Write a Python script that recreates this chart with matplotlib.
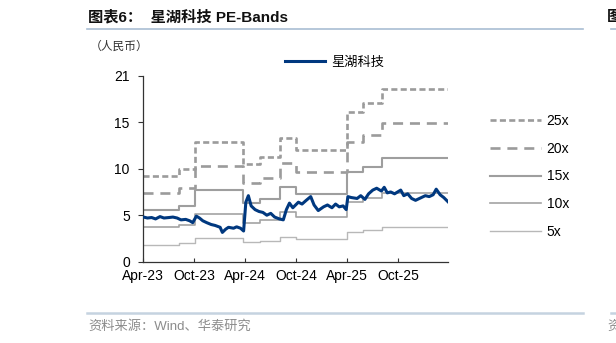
import matplotlib
matplotlib.use("Agg")
import matplotlib.pyplot as plt
import matplotlib.dates as mdates
from matplotlib.lines import Line2D
import numpy as np
import pandas as pd

plt.rcParams["font.family"] = ["Liberation Sans", "Noto Sans CJK SC"]

# 星湖科技 股价（人民币）
price_dates = [
    "2023-04-03", "2023-04-17", "2023-05-02", "2023-05-16", "2023-06-01", "2023-06-15",
    "2023-07-03", "2023-07-17", "2023-08-01", "2023-08-15", "2023-09-01", "2023-09-15",
    "2023-09-26", "2023-10-09", "2023-10-20", "2023-11-01", "2023-11-15", "2023-12-01",
    "2023-12-15", "2024-01-02", "2024-01-10", "2024-01-22", "2024-02-01", "2024-02-19",
    "2024-03-01", "2024-03-15", "2024-03-26", "2024-04-03", "2024-04-12", "2024-04-22",
    "2024-05-06", "2024-05-20", "2024-06-03", "2024-06-17", "2024-07-01", "2024-07-15",
    "2024-08-01", "2024-08-15", "2024-08-26", "2024-09-06", "2024-09-18", "2024-10-08",
    "2024-10-21", "2024-11-05", "2024-11-21", "2024-12-03", "2024-12-18", "2025-01-06",
    "2025-01-20", "2025-02-05", "2025-02-18", "2025-03-03", "2025-03-17", "2025-03-28",
    "2025-04-03", "2025-04-15", "2025-05-06", "2025-05-19", "2025-06-03", "2025-06-16",
    "2025-07-01", "2025-07-15", "2025-08-01", "2025-08-11", "2025-08-22", "2025-09-03",
    "2025-09-17", "2025-10-09", "2025-10-20", "2025-11-03", "2025-11-17", "2025-12-01",
    "2025-12-15", "2026-01-05", "2026-01-19", "2026-02-02", "2026-02-13", "2026-02-27",
    "2026-03-12", "2026-03-27",
]
price_values = [
    4.80, 4.70, 4.75, 4.60, 4.85, 4.70,
    4.75, 4.80, 4.70, 4.50, 4.55, 4.40,
    4.20, 4.90, 4.70, 4.40, 4.20, 4.00,
    3.90, 3.70, 3.15, 3.50, 3.70, 3.60,
    3.75, 3.60, 3.30, 6.40, 7.10, 6.00,
    5.60, 5.40, 5.30, 5.00, 5.20, 4.80,
    4.60, 4.50, 5.60, 6.30, 5.80, 6.40,
    6.20, 6.60, 7.00, 6.10, 5.50, 5.90,
    6.10, 5.80, 6.20, 5.90, 6.00, 5.60,
    7.00, 6.90, 6.80, 7.10, 6.70, 7.30,
    7.70, 7.90, 7.60, 8.00, 7.40, 7.50,
    7.30, 7.70, 7.10, 7.30, 6.80, 6.60,
    6.80, 7.10, 7.00, 7.20, 7.80, 7.20,
    6.90, 6.45,
]

# 每股收益阶梯（PE 带 = 倍数 × EPS）
eps_dates = [
    "2023-04-01", "2023-08-07", "2023-10-05", "2024-03-25", "2024-05-25",
    "2024-08-04", "2024-10-01", "2025-04-01", "2025-05-28", "2025-08-04",
]
eps_values = [0.368, 0.398, 0.514, 0.421, 0.450, 0.532, 0.482, 0.646, 0.682, 0.744]
end_date = "2026-03-27"
multiples = [25, 20, 15, 10, 5]
band_labels = ["25x", "20x", "15x", "10x", "5x"]

x_ticks = ["2023-04-01", "2023-10-01", "2024-04-01", "2024-10-01", "2025-04-01", "2025-10-01"]
x_tick_labels = ["Apr-23", "Oct-23", "Apr-24", "Oct-24", "Apr-25", "Oct-25"]
y_ticks = [0, 5, 10, 15, 20]
y_tick_labels = ["0", "5", "10", "15", "21"]

band_styles = {
    25: dict(color="#9B9B9B", lw=1.9, ls=(0, (2.3, 1.25))),
    20: dict(color="#9B9B9B", lw=1.9, ls=(0, (3.8, 2.6))),
    15: dict(color="#9E9E9E", lw=1.5, ls="-"),
    10: dict(color="#A3A3A3", lw=1.2, ls="-"),
    5: dict(color="#B8B8B8", lw=1.0, ls="-"),
}
navy = "#00387F"

fig = plt.figure(figsize=(6.16, 3.43), dpi=100)
ax = fig.add_axes([0.2321, 0.2370, 0.4951, 0.5423])

step_x = pd.to_datetime(eps_dates + [end_date])
step_eps = np.array(eps_values + [eps_values[-1]])

band_handles = []
for m, lab in zip(multiples, band_labels):
    st = band_styles[m]
    ln, = ax.step(step_x, m * step_eps, where="post", color=st["color"],
                  lw=st["lw"], ls=st["ls"], label=lab, zorder=2)
    band_handles.append(ln)

price_line, = ax.plot(pd.to_datetime(price_dates), price_values, color=navy,
                      lw=2.2, label="星湖科技", zorder=3)

ax.set_xlim(pd.Timestamp(eps_dates[0]), pd.Timestamp(end_date))
ax.set_ylim(0, 20)
ax.set_xticks(pd.to_datetime(x_ticks))
ax.set_xticklabels(x_tick_labels)
ax.set_yticks(y_ticks)
ax.set_yticklabels(y_tick_labels)
ax.tick_params(axis="x", direction="in", length=3, labelsize=10, pad=5, color="#333333")
ax.tick_params(axis="y", direction="out", length=3.5, labelsize=10, pad=6, color="#333333")
ax.spines[["top", "right"]].set_visible(False)
ax.spines["left"].set_color("#333333")
ax.spines["bottom"].set_color("#333333")
ax.spines["left"].set_linewidth(0.9)
ax.spines["bottom"].set_linewidth(0.9)
ax.set_facecolor("none")

# 图例
fig.legend(handles=band_handles, loc="upper left", bbox_to_anchor=(490 / 616, 0.6677),
           frameon=False, fontsize=10, handlelength=3.67, handletextpad=0.4,
           labelspacing=0.99, borderpad=0, borderaxespad=0)
fig.legend(handles=[price_line], loc="upper left", bbox_to_anchor=(285 / 616, 0.836),
           frameon=False, fontsize=9.5, handlelength=3.0, handletextpad=0.5,
           borderpad=0, borderaxespad=0)

# 标题、单位、来源
fig.text(88 / 616, 0.950, "图表6：  星湖科技 PE-Bands", fontsize=11, fontweight="bold",
         ha="left", va="center", color="#111111")
fig.text(90 / 616, 0.863, "（人民币）", fontsize=8.5, ha="left", va="center", color="#333333")
fig.text(88 / 616, 0.047, "资料来源：Wind、华泰研究", fontsize=9.5, ha="left", va="center",
         color="#8C8C8C")
fig.text(607 / 616, 0.950, "图", fontsize=11, fontweight="bold", ha="left", va="center",
         color="#111111")
fig.text(607 / 616, 0.047, "资", fontsize=9.5, ha="left", va="center", color="#8C8C8C")

for y, c, lw in [(1 - 29 / 343, "#A9BED3", 1.2), (1 - 313 / 343, "#C5D3E0", 1.8)]:
    fig.add_artist(Line2D([87 / 616, 583 / 616], [y, y], color=c, lw=lw))
    fig.add_artist(Line2D([611 / 616, 1.0], [y, y], color=c, lw=lw))

fig.savefig("out.png", dpi=100)
